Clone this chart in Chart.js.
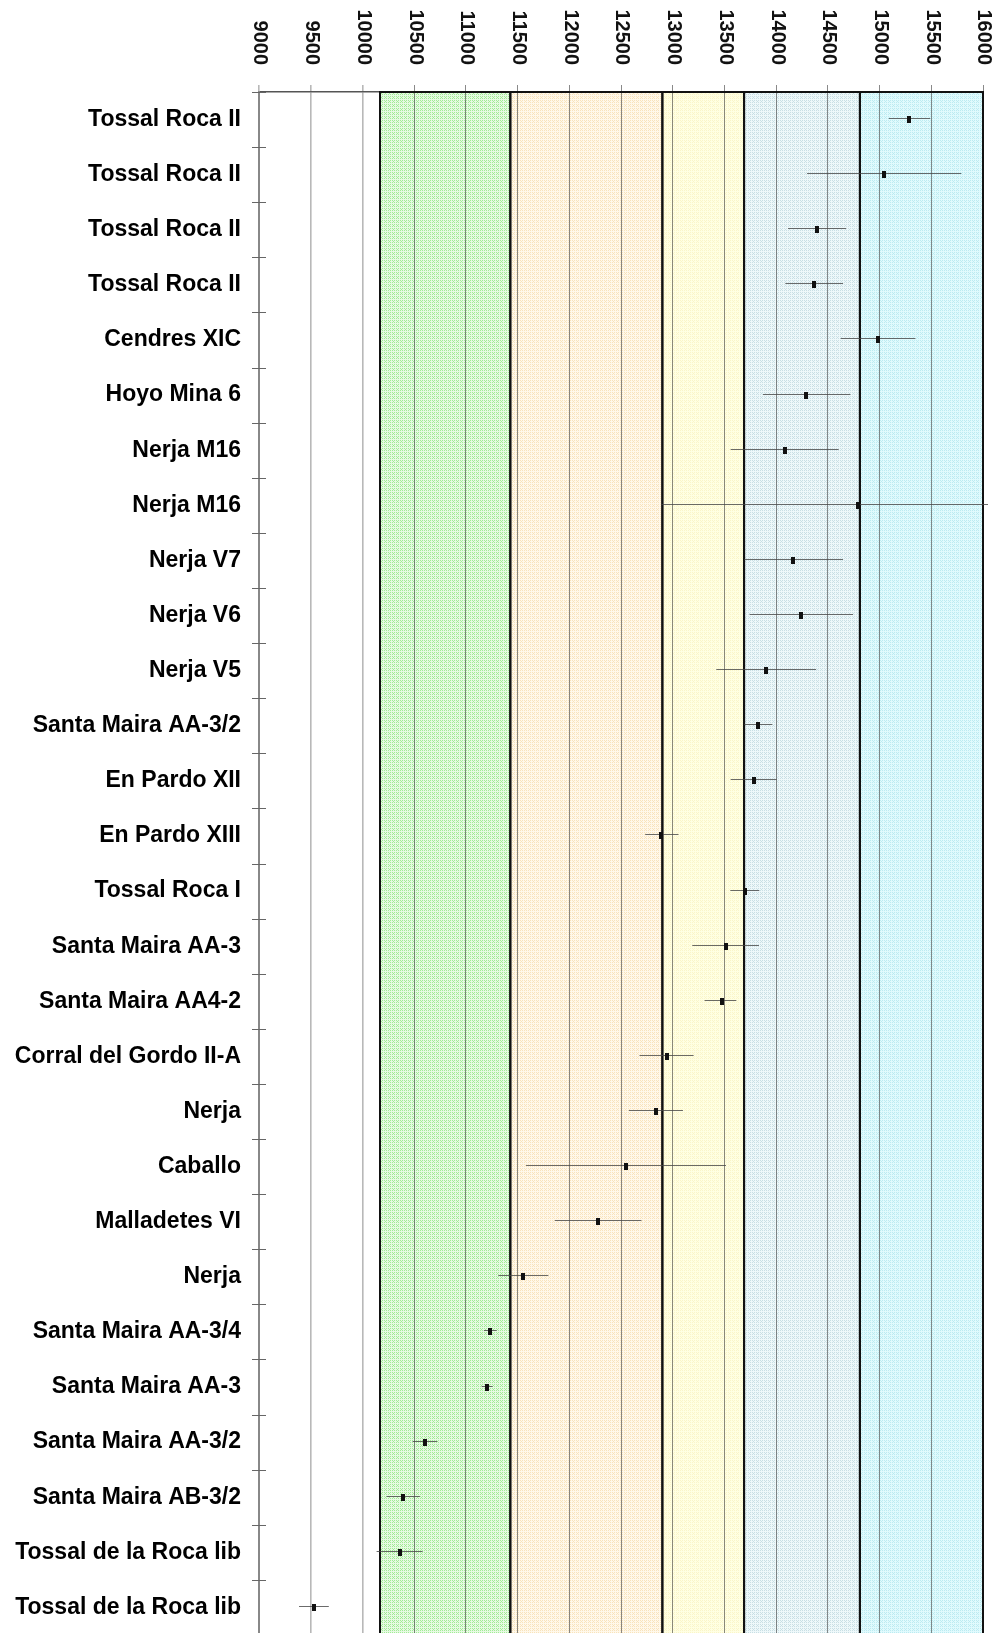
<!DOCTYPE html>
<html>
<head>
<meta charset="utf-8">
<script src="https://cdn.jsdelivr.net/npm/chart.js@4.4.1/dist/chart.umd.min.js"></script>
<style>
  html, body { margin: 0; padding: 0; background: #ffffff; }
  #wrap { width: 998px; height: 1633px; overflow: hidden; position: relative; }
  canvas { display: block; }
</style>
</head>
<body>
<div id="wrap"><canvas id="c" width="998" height="1640"></canvas></div>
<script>
// Sites / levels, top to bottom
const sites = [
  'Tossal Roca II', 'Tossal Roca II', 'Tossal Roca II', 'Tossal Roca II',
  'Cendres XIC', 'Hoyo Mina 6', 'Nerja M16', 'Nerja M16',
  'Nerja V7', 'Nerja V6', 'Nerja V5', 'Santa Maira AA-3/2',
  'En Pardo XII', 'En Pardo XIII', 'Tossal Roca I', 'Santa Maira AA-3',
  'Santa Maira AA4-2', 'Corral del Gordo II-A', 'Nerja', 'Caballo',
  'Malladetes VI', 'Nerja', 'Santa Maira AA-3/4', 'Santa Maira AA-3',
  'Santa Maira AA-3/2', 'Santa Maira AB-3/2', 'Tossal de la Roca lib', 'Tossal de la Roca lib'
];

// Calibrated age (cal BP): central value and range limits
const calAge = [15287, 15047, 14392, 14363, 14986, 14292, 14082, 14789, 14164, 14244,
  13902, 13821, 13786, 12889, 13695, 13515, 13473, 12940, 12840, 12547,
  12276, 11556, 11236, 11207, 10601, 10394, 10362, 9530];
const calLow = [15089, 14299, 14115, 14089, 14624, 13873, 13560, 12889, 13692, 13743,
  13421, 13692, 13560, 12734, 13557, 13189, 13308, 12679, 12576, 11582,
  11860, 11314, 11175, 11153, 10485, 10233, 10137, 9387];
const calHigh = [15490, 15790, 14677, 14647, 15347, 14718, 14605, 16690, 14647, 14744,
  14386, 13963, 14005, 13056, 13837, 13834, 13615, 13202, 13099, 13515,
  12698, 11798, 11298, 11259, 10723, 10556, 10582, 9675];

// Axis range and tick step
const axisMin = 9000;
const axisMax = 16000;
const axisStep = 500;

// Climatic periods shown as shaded bands
const periodStart = [10170, 11430, 12900, 13690, 14810];
const periodEnd   = [11430, 12900, 13690, 14810, 16000];
const periodBase  = ['#e6fae2', '#fff8ea', '#ffffe2', '#eef8fa', '#e0fafd'];
const periodDot   = ['#a2eb96', '#f8e3bc', '#faf5c9', '#c9dfe4', '#bcebf1'];

function makePattern(ctx, base, dot) {
  const t = document.createElement('canvas');
  t.width = 4; t.height = 4;
  const g = t.getContext('2d');
  g.fillStyle = base;
  g.fillRect(0, 0, 4, 4);
  g.fillStyle = dot;
  [[0, 0], [2, 0], [1, 1], [0, 2], [2, 2]].forEach(([px, py]) => g.fillRect(px, py, 1, 1));
  return ctx.createPattern(t, 'repeat');
}

// Small upright black rectangle used as the point marker
const marker = document.createElement('canvas');
marker.width = 4; marker.height = 7;
(function () {
  const g = marker.getContext('2d');
  g.fillStyle = '#111';
  g.fillRect(0, 0, 4, 7);
})();

function inPeriod(v) {
  for (let i = 0; i < periodStart.length; i++) {
    if (v >= periodStart[i] && v <= periodEnd[i]) return true;
  }
  return false;
}

const periodBands = {
  id: 'periodBands',
  beforeDraw(chart) {
    const { ctx, chartArea: a, scales: { x } } = chart;
    if (!chart.$patterns) {
      chart.$patterns = periodBase.map((b, i) => makePattern(ctx, b, periodDot[i]));
    }
    ctx.save();
    periodStart.forEach((s, i) => {
      const x0 = x.getPixelForValue(s);
      const x1 = x.getPixelForValue(periodEnd[i]);
      ctx.fillStyle = chart.$patterns[i];
      ctx.fillRect(x0, a.top, x1 - x0, a.bottom - a.top);
    });
    ctx.restore();
  },
  beforeDatasetsDraw(chart) {
    const { ctx, chartArea: a, scales: { x } } = chart;
    ctx.save();
    // period outlines
    ctx.strokeStyle = '#111';
    ctx.lineWidth = 2;
    periodStart.forEach((s, i) => {
      const x0 = x.getPixelForValue(s);
      const x1 = x.getPixelForValue(periodEnd[i]);
      ctx.strokeRect(x0, a.top, x1 - x0, a.bottom - a.top + 2);
    });
    // category boundary marks crossing the left axis
    ctx.strokeStyle = '#666';
    ctx.lineWidth = 1;
    for (let k = 0; k <= sites.length; k++) {
      const yy = Math.round(a.top + (a.bottom - a.top) * k / sites.length) + 0.5;
      ctx.beginPath();
      ctx.moveTo(a.left - 7, yy);
      ctx.lineTo(a.left + 7, yy);
      ctx.stroke();
    }
    // error bars (range of the calibrated date)
    const meta = chart.getDatasetMeta(0);
    ctx.beginPath();
    ctx.rect(a.left, a.top - 1, a.right - a.left + 5, a.bottom - a.top + 2);
    ctx.clip();
    ctx.strokeStyle = 'rgba(70,70,70,0.8)';
    ctx.lineWidth = 1;
    meta.data.forEach((pt, i) => {
      const yy = Math.round(pt.y - 1.5) + 0.5;
      ctx.beginPath();
      ctx.moveTo(x.getPixelForValue(calLow[i]), yy);
      ctx.lineTo(x.getPixelForValue(calHigh[i]), yy);
      ctx.stroke();
    });
    ctx.restore();
  },
  afterDraw(chart) {
    // vertical tick labels above the top axis, reading downwards
    const { ctx, chartArea: a, scales: { x } } = chart;
    ctx.save();
    ctx.fillStyle = '#111';
    ctx.font = 'bold 20px "Liberation Sans", Arial, sans-serif';
    ctx.textAlign = 'right';
    ctx.textBaseline = 'middle';
    x.ticks.forEach(t => {
      const px = x.getPixelForValue(t.value);
      ctx.save();
      ctx.translate(px + 1, a.top - 27);
      ctx.rotate(Math.PI / 2);
      ctx.fillText(String(t.value), 0, 0);
      ctx.restore();
    });
    ctx.restore();
  }
};

new Chart(document.getElementById('c'), {
  type: 'scatter',
  data: {
    labels: sites,
    datasets: [{
      data: sites.map((s, i) => ({ x: calAge[i], y: s })),
      pointStyle: marker,
      pointRadius: 3,
      showLine: false
    }]
  },
  options: {
    responsive: false,
    devicePixelRatio: 1,
    animation: false,
    layout: { padding: { left: 0, right: 15, top: 0, bottom: 4 } },
    plugins: { legend: { display: false }, tooltip: { enabled: false } },
    scales: {
      x: {
        type: 'linear',
        position: 'top',
        min: axisMin,
        max: axisMax,
        ticks: { stepSize: axisStep, display: false },
        grid: {
          drawTicks: true,
          tickLength: 7,
          color: c => inPeriod(c.tick.value) ? 'rgba(60,60,60,0.6)' : '#b8b8b8',
          lineWidth: c => inPeriod(c.tick.value) ? 1 : 1.6
        },
        border: { display: true, color: '#555', width: 1.5 },
        afterFit: s => { s.height = 92; s.paddingLeft = 0; s.paddingRight = 0; }
      },
      y: {
        type: 'category',
        labels: sites,
        offset: true,
        position: 'left',
        grid: { display: false, drawTicks: false },
        border: { display: true, color: '#888', width: 2 },
        ticks: {
          color: '#000',
          padding: 18,
          autoSkip: false,
          font: { family: '"Liberation Sans", Arial, sans-serif', size: 23, weight: 'bold' }
        },
        afterFit: s => { s.width = 259; s.paddingTop = 0; s.paddingBottom = 0; }
      }
    }
  },
  plugins: [periodBands]
});
</script>
</body>
</html>
